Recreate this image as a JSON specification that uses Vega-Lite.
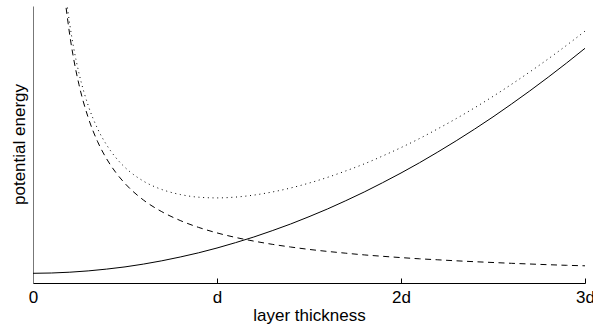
{
  "$schema": "https://vega.github.io/schema/vega-lite/v6.json",
  "width": 552,
  "height": 277,
  "autosize": {"type": "none"},
  "padding": {"left": 33, "top": 6, "right": 8, "bottom": 44},
  "background": "white",
  "config": {
    "view": {"stroke": null},
    "font": "Liberation Sans",
    "axis": {"grid": false, "labelFont": "Liberation Sans", "titleFont": "Liberation Sans", "titleFontWeight": "normal", "labelColor": "black", "titleColor": "black"}
  },
  "datasets": {
    "elastic": [
      {"x": 0, "v": 9.7}, {"x": 0.1, "v": 10.0}, {"x": 0.2, "v": 10.8}, {"x": 0.3, "v": 12.1},
      {"x": 0.4, "v": 13.9}, {"x": 0.5, "v": 16.1}, {"x": 0.6, "v": 18.9}, {"x": 0.7, "v": 22.2},
      {"x": 0.8, "v": 26.0}, {"x": 0.9, "v": 30.2}, {"x": 1.0, "v": 35.0}, {"x": 1.1, "v": 40.3},
      {"x": 1.2, "v": 46.0}, {"x": 1.3, "v": 52.3}, {"x": 1.4, "v": 59.0}, {"x": 1.5, "v": 66.3},
      {"x": 1.6, "v": 74.0}, {"x": 1.7, "v": 82.3}, {"x": 1.8, "v": 91.0}, {"x": 1.9, "v": 100.3},
      {"x": 2.0, "v": 110.0}, {"x": 2.1, "v": 120.2}, {"x": 2.2, "v": 131.0}, {"x": 2.3, "v": 142.2},
      {"x": 2.4, "v": 153.9}, {"x": 2.5, "v": 166.1}, {"x": 2.6, "v": 178.9}, {"x": 2.7, "v": 192.1},
      {"x": 2.8, "v": 205.8}, {"x": 2.9, "v": 220.0}, {"x": 3.0, "v": 234.7}
    ],
    "interface": [
      {"x": 0.18, "v": 275.1}, {"x": 0.2, "v": 247.7}, {"x": 0.22, "v": 225.2}, {"x": 0.25, "v": 198.3},
      {"x": 0.3, "v": 165.4}, {"x": 0.35, "v": 141.8}, {"x": 0.4, "v": 124.2}, {"x": 0.45, "v": 110.5},
      {"x": 0.5, "v": 99.5}, {"x": 0.6, "v": 83.0}, {"x": 0.7, "v": 71.3}, {"x": 0.8, "v": 62.5},
      {"x": 0.9, "v": 55.6}, {"x": 1.0, "v": 50.1}, {"x": 1.1, "v": 45.6}, {"x": 1.2, "v": 41.9},
      {"x": 1.3, "v": 38.7}, {"x": 1.4, "v": 36.0}, {"x": 1.5, "v": 33.6}, {"x": 1.6, "v": 31.6},
      {"x": 1.7, "v": 29.8}, {"x": 1.8, "v": 28.1}, {"x": 1.9, "v": 26.7}, {"x": 2.0, "v": 25.4},
      {"x": 2.1, "v": 24.2}, {"x": 2.2, "v": 23.2}, {"x": 2.3, "v": 22.2}, {"x": 2.4, "v": 21.3},
      {"x": 2.5, "v": 20.5}, {"x": 2.6, "v": 19.7}, {"x": 2.7, "v": 19.0}, {"x": 2.8, "v": 18.3},
      {"x": 2.9, "v": 17.7}, {"x": 3.0, "v": 17.2}
    ],
    "total": [
      {"x": 0.187, "v": 275.5}, {"x": 0.2, "v": 258.5}, {"x": 0.22, "v": 236.2}, {"x": 0.25, "v": 209.7},
      {"x": 0.3, "v": 177.5}, {"x": 0.35, "v": 154.7}, {"x": 0.4, "v": 138.1}, {"x": 0.45, "v": 125.4},
      {"x": 0.5, "v": 115.6}, {"x": 0.6, "v": 101.9}, {"x": 0.7, "v": 93.5}, {"x": 0.8, "v": 88.5},
      {"x": 0.9, "v": 85.8}, {"x": 1.0, "v": 85.1}, {"x": 1.1, "v": 85.9}, {"x": 1.2, "v": 87.9},
      {"x": 1.3, "v": 91.0}, {"x": 1.4, "v": 95.0}, {"x": 1.5, "v": 99.9}, {"x": 1.6, "v": 105.6},
      {"x": 1.7, "v": 112.1}, {"x": 1.8, "v": 119.1}, {"x": 1.9, "v": 127.0}, {"x": 2.0, "v": 135.4},
      {"x": 2.1, "v": 144.4}, {"x": 2.2, "v": 154.2}, {"x": 2.3, "v": 164.4}, {"x": 2.4, "v": 175.2},
      {"x": 2.5, "v": 186.6}, {"x": 2.6, "v": 198.6}, {"x": 2.7, "v": 211.1}, {"x": 2.8, "v": 224.1},
      {"x": 2.9, "v": 237.7}, {"x": 3.0, "v": 251.9}
    ]
  },
  "encoding": {
    "x": {
      "field": "x", "type": "quantitative",
      "scale": {"domain": [0, 3], "nice": false, "zero": false},
      "axis": {
        "values": [0, 1, 2, 3],
        "labelExpr": "datum.value == 0 ? '0' : (datum.value == 1 ? 'd' : datum.value + 'd')",
        "title": "layer thickness",
        "labelFontSize": 17, "titleFontSize": 17,
        "domainColor": "black", "domainWidth": 1,
        "tickColor": "black", "tickWidth": 1, "tickSize": -5,
        "labelPadding": 11, "labelFlush": false, "labelOverlap": false,
        "titleY": 37, "titleBaseline": "alphabetic"
      }
    },
    "y": {
      "field": "v", "type": "quantitative",
      "scale": {"domain": [0, 277], "nice": false},
      "axis": {
        "title": "potential energy",
        "titleFontSize": 17,
        "labels": false, "ticks": false,
        "domainColor": "#777777", "domainWidth": 1,
        "titleAngle": -90, "titleAlign": "center", "titleBaseline": "alphabetic",
        "titleX": -9, "titleY": 138
      }
    }
  },
  "layer": [
    {
      "data": {"name": "elastic"},
      "mark": {"type": "line", "color": "black", "strokeWidth": 1, "interpolate": "monotone"}
    },
    {
      "data": {"name": "interface"},
      "mark": {"type": "line", "color": "black", "strokeWidth": 1, "strokeDash": [6, 4.5], "interpolate": "monotone"}
    },
    {
      "data": {"name": "total"},
      "mark": {"type": "line", "color": "black", "strokeWidth": 1, "strokeDash": [1, 3.7], "interpolate": "monotone"}
    }
  ]
}
